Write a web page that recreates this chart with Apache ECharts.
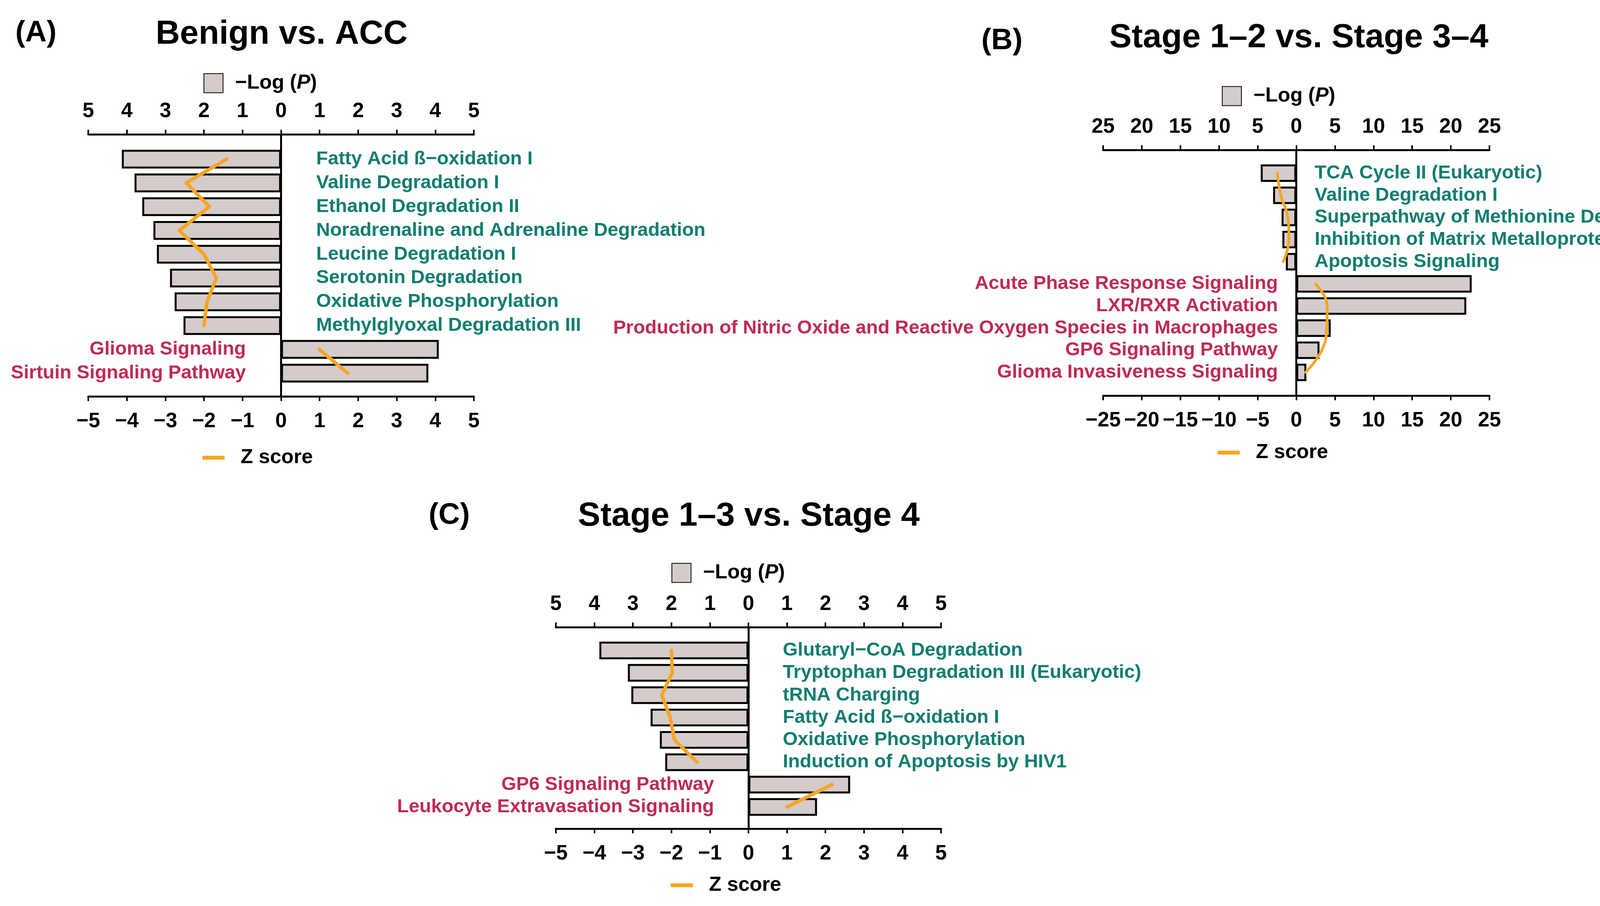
<!DOCTYPE html>
<html><head><meta charset="utf-8">
<script src="https://cdn.jsdelivr.net/npm/echarts@6/dist/echarts.min.js"></script>
<style>html,body{margin:0;padding:0;background:#fff}#c{width:4376px;height:2320px}</style>
</head><body><div id="c"></div>
<script>
// ---------- DATA ----------
const catsA = ['Fatty Acid ß−oxidation I','Valine Degradation I','Ethanol Degradation II','Noradrenaline and Adrenaline Degradation','Leucine Degradation I','Serotonin Degradation','Oxidative Phosphorylation','Methylglyoxal Degradation III','Glioma Signaling','Sirtuin Signaling Pathway'];
const logpA = [4.13, 3.80, 3.60, 3.31, 3.22, 2.88, 2.76, 2.53, 4.09, 3.82];
const zA    = [-1.41, -2.46, -1.86, -2.64, -2.00, -1.68, -1.92, -2.00, 0.99, 1.73];

const catsB = ['TCA Cycle II (Eukaryotic)','Valine Degradation I','Superpathway of Methionine Degradation','Inhibition of Matrix Metalloproteases','Apoptosis Signaling','Acute Phase Response Signaling','LXR/RXR Activation','Production of Nitric Oxide and Reactive Oxygen Species in Macrophages','GP6 Signaling Pathway','Glioma Invasiveness Signaling'];
const logpB = [4.6, 3.0, 1.9, 1.8, 1.35, 22.7, 22.0, 4.45, 3.0, 1.3];
const zB    = [-2.45, -2.0, -1.1, -0.95, -1.7, 2.48, 4.0, 3.94, 3.3, 1.2];

const catsC = ['Glutaryl−CoA Degradation','Tryptophan Degradation III (Eukaryotic)','tRNA Charging','Fatty Acid ß−oxidation I','Oxidative Phosphorylation','Induction of Apoptosis by HIV1','GP6 Signaling Pathway','Leukocyte Extravasation Signaling'];
const logpC = [3.87, 3.13, 3.04, 2.54, 2.30, 2.16, 2.64, 1.78];
const zC    = [-2.00, -1.98, -2.25, -2.03, -1.92, -1.33, 2.17, 1.00];

const axisAC = {min: -5, max: 5, interval: 1};
const axisB  = {min: -25, max: 25, interval: 5};

const titles = ['Benign vs. ACC', 'Stage 1–2 vs. Stage 3–4', 'Stage 1–3 vs. Stage 4'];
const tags = ['(A)', '(B)', '(C)'];
const barLegendName = '−Log (P)';
const zLegendName = 'Z score';

// ---------- STYLE / LAYOUT ----------
const FONT = "'Liberation Sans', Arial, sans-serif";
const TEAL = '#117D70', RED = '#BF2B55', ORANGE = '#F6A623', BARFILL = '#D4CBCB';

const panels = [
  {cats: catsA, logp: logpA, z: zA, ax: axisAC, left: 226, width: 987, oTop: 344, oH: 671, iTop: 377, iH: 609,
   margin: 90, smooth: false, lw: 9, tagX: 92, tagY: 85, titleX: 721, titleY: 88,
   legL: 521, legT: 187, zL: 518, zT: 1146},
  {cats: catsB, logp: logpB, z: zB, ax: axisB, left: 2824, width: 989, oTop: 384, oH: 629, iTop: 415, iH: 567,
   margin: 47, smooth: 0.45, lw: 7, tagX: 2565, tagY: 105, titleX: 3325, titleY: 97,
   legL: 3128, legT: 220, zL: 3117, zT: 1133},
  {cats: catsC, logp: logpC, z: zC, ax: axisAC, left: 1423, width: 986, oTop: 1606, oH: 516, iTop: 1637, iH: 458,
   margin: 88, smooth: false, lw: 9, tagX: 1150, tagY: 1320, titleX: 1917, titleY: 1322,
   legL: 1719, legT: 1441, zL: 1717, zT: 2241}
];

const grid = [], xAxis = [], yAxis = [], series = [], legend = [], graphic = [];
const tickLabel = {fontFamily: FONT, fontWeight: 'bold', fontSize: 53, color: '#000'};
const axLine = {show: true, lineStyle: {color: '#000', width: 5}};
const axTick = {show: true, length: 12, lineStyle: {color: '#000', width: 4}};

panels.forEach((p, k) => {
  // outer grid: axes & zero line
  const og = grid.length;
  grid.push({left: p.left, width: p.width, top: p.oTop, height: p.oH, outerBoundsMode: 'none'});
  const topX = xAxis.length;
  xAxis.push({type: 'value', gridIndex: og, position: 'top', min: p.ax.min, max: p.ax.max, interval: p.ax.interval,
    axisLine: Object.assign({onZero: false}, axLine), axisTick: axTick, splitLine: {show: false},
    axisLabel: Object.assign({margin: 32, formatter: v => String(Math.abs(v))}, tickLabel)});
  xAxis.push({type: 'value', gridIndex: og, position: 'bottom', min: p.ax.min, max: p.ax.max, interval: p.ax.interval,
    axisLine: Object.assign({onZero: false}, axLine), axisTick: axTick, splitLine: {show: false},
    axisLabel: Object.assign({margin: 38, formatter: v => v < 0 ? '−' + Math.abs(v) : String(v)}, tickLabel)});
  yAxis.push({type: 'value', gridIndex: og, min: 0, max: 1,
    axisLine: {show: true, onZero: true, onZeroAxisIndex: topX, lineStyle: {color: '#000', width: 5}},
    axisTick: {show: false}, axisLabel: {show: false}, splitLine: {show: false}});

  // inner grid: bars, line, category labels (labels placed inward from the grid edges to the zero line)
  const ig = grid.length;
  grid.push({left: p.left, width: p.width, top: p.iTop, height: p.iH, outerBoundsMode: 'none'});
  const ix = xAxis.length;
  xAxis.push({type: 'value', gridIndex: ig, show: false, min: p.ax.min, max: p.ax.max, interval: p.ax.interval,
    splitLine: {show: false}});
  const iyL = yAxis.length;
  const lab = {fontFamily: FONT, fontWeight: 'bold', fontSize: 49, inside: true,
    margin: p.width / 2 + p.margin, interval: 0, padding: [0, 0, 12, 0]};
  // red (up) labels: right-aligned, left of zero
  yAxis.push({type: 'category', gridIndex: ig, position: 'right', inverse: true, data: p.cats,
    axisLine: {show: false, onZero: false}, axisTick: {show: false}, splitLine: {show: false},
    axisLabel: Object.assign({color: RED, formatter: (v, i) => p.z[i] > 0 ? v : ''}, lab)});
  // teal (down) labels: left-aligned, right of zero
  yAxis.push({type: 'category', gridIndex: ig, position: 'left', inverse: true, data: p.cats,
    axisLine: {show: false, onZero: false}, axisTick: {show: false}, splitLine: {show: false},
    axisLabel: Object.assign({color: TEAL, formatter: (v, i) => p.z[i] < 0 ? v : ''}, lab)});

  series.push({type: 'bar', name: barLegendName, xAxisIndex: ix, yAxisIndex: iyL, barWidth: '79%',
    itemStyle: {color: BARFILL, borderColor: '#000', borderWidth: 5},
    data: p.logp.map((v, i) => p.z[i] < 0 ? -v : v), silent: true});
  const lineBase = {type: 'line', name: zLegendName, xAxisIndex: ix, yAxisIndex: iyL, showSymbol: false, symbol: 'none',
    smooth: p.smooth, color: ORANGE, lineStyle: {color: ORANGE, width: p.lw, cap: 'round', join: 'round'}, z: 5, silent: true};
  series.push(Object.assign({}, lineBase, {data: p.z.map(v => v < 0 ? v : '-')}));
  series.push(Object.assign({}, lineBase, {data: p.z.map(v => v > 0 ? v : '-')}));

  legend.push({data: [{name: barLegendName, icon: 'rect'}], left: p.legL, top: p.legT, padding: 0,
    itemWidth: 49, itemHeight: 49, selectedMode: false,
    formatter: () => '{g|}−Log ({i|P})',
    textStyle: {fontFamily: FONT, fontWeight: 'bold', fontSize: 52, color: '#000',
      rich: {g: {width: 26}, i: {fontFamily: FONT, fontWeight: 'bold', fontStyle: 'italic', fontSize: 52, color: '#000'}}}});
  legend.push({data: [{name: zLegendName, icon: 'roundRect'}], left: p.zL, top: p.zT, padding: 0,
    itemWidth: 57, itemHeight: 10, selectedMode: false,
    itemStyle: {color: ORANGE, borderWidth: 0},
    formatter: n => '{g|}' + n,
    textStyle: {fontFamily: FONT, fontWeight: 'bold', fontSize: 52, color: '#000',
      rich: {g: {width: 36}}}});

  graphic.push({type: 'text', x: p.tagX, y: p.tagY, style: {text: tags[k], font: "bold 76px " + FONT, fill: '#000', align: 'center', verticalAlign: 'middle'}});
  graphic.push({type: 'text', x: p.titleX, y: p.titleY, style: {text: titles[k], font: "bold 86px " + FONT, fill: '#000', align: 'center', verticalAlign: 'middle'}});
});

const chart = echarts.init(document.getElementById('c'), null, {renderer: 'canvas'});
chart.setOption({animation: false, backgroundColor: '#fff', grid, xAxis, yAxis, series, legend, graphic});
</script></body></html>
